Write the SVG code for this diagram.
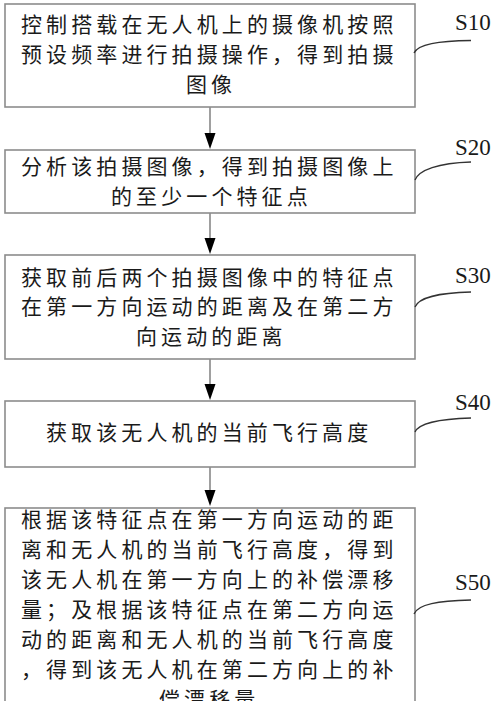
<svg xmlns="http://www.w3.org/2000/svg" width="500" height="701" viewBox="0 0 500 701">
<defs>
<style>
.box{fill:#fff;stroke:#8c8c8c;stroke-width:1.6}
.t{font-family:"Noto Sans CJK SC","Noto Sans CJK JP",sans-serif;font-size:21px;letter-spacing:4.1px;fill:#1a1a1a}
.lbl{font-family:"Liberation Serif",serif;font-size:23px;fill:#1a1a1a}
.conn{stroke:#777;stroke-width:1.4;fill:none}
.lead{stroke:#333;stroke-width:1.3;fill:none}
</style>
</defs>
<rect width="500" height="701" fill="#fff"/>
<g id="connectors">
<line class="conn" x1="210" y1="107" x2="210" y2="133"/>
<path d="M204.5,133 L215.5,133 L210,149 Z" fill="#000"/>
<line class="conn" x1="210" y1="213" x2="210" y2="238"/>
<path d="M204.5,238 L215.5,238 L210,254 Z" fill="#000"/>
<line class="conn" x1="210" y1="359" x2="210" y2="384"/>
<path d="M204.5,384 L215.5,384 L210,400 Z" fill="#000"/>
<line class="conn" x1="210" y1="467" x2="210" y2="490"/>
<path d="M204.5,490 L215.5,490 L210,506 Z" fill="#000"/>
</g>
<g id="S10">
<rect class="box" x="5" y="4" width="410" height="103"/>
<text class="t" x="21" y="32">控制搭载在无人机上的摄像机按照</text>
<text class="t" x="21" y="62">预设频率进行拍摄操作，得到拍摄</text>
<text class="t" x="186" y="92">图像</text>
<text class="lbl" x="455" y="30">S10</text>
<path class="lead" d="M414,53 C418,44 438,41 471,40.5"/>
</g>
<g id="S20">
<rect class="box" x="5" y="150" width="410" height="63"/>
<text class="t" x="21" y="174">分析该拍摄图像，得到拍摄图像上</text>
<text class="t" x="111" y="204">的至少一个特征点</text>
<text class="lbl" x="455" y="155">S20</text>
<path class="lead" d="M415,180 C419,170 438,163 471,162"/>
</g>
<g id="S30">
<rect class="box" x="5" y="255" width="410" height="104"/>
<text class="t" x="21" y="285">获取前后两个拍摄图像中的特征点</text>
<text class="t" x="21" y="314">在第一方向运动的距离及在第二方</text>
<text class="t" x="136" y="344">向运动的距离</text>
<text class="lbl" x="455" y="283">S30</text>
<path class="lead" d="M415,307 C419,297 438,293 471,292"/>
</g>
<g id="S40">
<rect class="box" x="5" y="401" width="410" height="66"/>
<text class="t" x="46" y="440">获取该无人机的当前飞行高度</text>
<text class="lbl" x="455" y="410">S40</text>
<path class="lead" d="M415,432 C419,423 438,419 471,418"/>
</g>
<g id="S50">
<rect class="box" x="5" y="508" width="410" height="220"/>
<text class="t" x="21" y="527">根据该特征点在第一方向运动的距</text>
<text class="t" x="21" y="557">离和无人机的当前飞行高度，得到</text>
<text class="t" x="21" y="587">该无人机在第一方向上的补偿漂移</text>
<text class="t" x="21" y="617">量；及根据该特征点在第二方向运</text>
<text class="t" x="21" y="647">动的距离和无人机的当前飞行高度</text>
<text class="t" x="21" y="677">，得到该无人机在第二方向上的补</text>
<text class="t" x="159" y="707">偿漂移量</text>
<text class="lbl" x="455" y="590">S50</text>
<path class="lead" d="M414,614 C418,604 438,601 471,600"/>
</g>
</svg>
